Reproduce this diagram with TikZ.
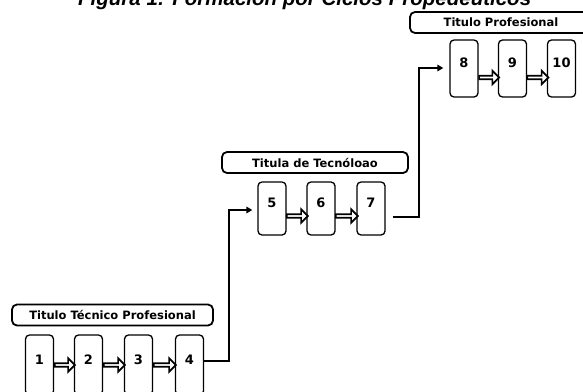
\documentclass[tikz,border=0pt]{standalone}
\usepackage{fontspec}
\setmainfont{DejaVu Sans}
\newfontfamily\titlefont{Liberation Sans}
\usetikzlibrary{calc,arrows.meta,shapes.arrows}
\tikzset{
  stepbox/.style={draw=black, line width=1.3pt, rounded corners=4pt, fill=white,
    minimum width=28pt, inner sep=0pt},
  headbox/.style={draw=black, line width=1.8pt, rounded corners=5pt, fill=white,
    minimum height=21pt, inner sep=0pt, font=\bfseries\fontsize{11.5}{12}\selectfont},
  numstyle/.style={font=\bfseries\fontsize{13}{14}\selectfont, inner sep=0pt, anchor=center},
  barrow/.style={single arrow, draw=black, line width=1.7pt, fill=white,
    minimum width=13.5pt, single arrow head extend=2.5pt, single arrow head indent=0pt,
    inner sep=0pt, shape border rotate=0},
  conn/.style={draw=black, line width=1.9pt},
  connarrow/.style={conn, -{Triangle[length=6pt,width=6.5pt]}},
}
\begin{document}
\begin{tikzpicture}[x=1pt,y=-1pt]
\useasboundingbox (0,0) rectangle (583,391);
% title (cut off at the top)
\node[anchor=base west, inner sep=0pt, font=\titlefont\bfseries\itshape\fontsize{20.5}{22}\selectfont] (title) at (78,5) {Figura 1: Formación por Ciclos Propedéuticos};

% group 1
\node[headbox, minimum width=201pt] (h1) at (112.5,315) {Titulo Técnico Profesional};
\node[stepbox, minimum height=60pt, label={[numstyle, yshift=-25pt]north:1}] (b1) at (39.5,365) {};
\node[stepbox, minimum height=60pt, label={[numstyle, yshift=-25pt]north:2}] (b2) at (88.5,365) {};
\node[stepbox, minimum height=60pt, label={[numstyle, yshift=-25pt]north:3}] (b3) at (138.5,365) {};
\node[stepbox, minimum height=60pt, label={[numstyle, yshift=-25pt]north:4}] (b4) at (189.5,365) {};
\node[barrow, minimum height=20pt] (a12) at ($(b1.east)!0.5!(b2.west)$) {};
\node[barrow, minimum height=21pt] (a23) at ($(b2.east)!0.5!(b3.west)$) {};
\node[barrow, minimum height=22pt] (a34) at ($(b3.east)!0.5!(b4.west)$) {};

% group 2
\node[headbox, minimum width=186pt] (h2) at (315,162.5) {Titula de Tecnóloao};
\node[stepbox, minimum height=53pt, label={[numstyle, yshift=-21pt]north:5}] (b5) at (272,208.5) {};
\node[stepbox, minimum height=53pt, label={[numstyle, yshift=-21pt]north:6}] (b6) at (321,208.5) {};
\node[stepbox, minimum height=53pt, label={[numstyle, yshift=-21pt]north:7}] (b7) at (371,208.5) {};
\node[barrow, minimum height=21pt, yshift=-7.5pt] (a56) at ($(b5.east)!0.5!(b6.west)$) {};
\node[barrow, minimum height=22pt, yshift=-7.5pt] (a67) at ($(b6.east)!0.5!(b7.west)$) {};

% group 3
\node[headbox, minimum width=182pt] (h3) at (501,22.5) {Titulo Profesional};
\node[stepbox, minimum height=57pt, label={[numstyle, yshift=-23pt]north:8}] (b8) at (464,68.5) {};
\node[stepbox, minimum height=57pt, label={[numstyle, yshift=-23pt]north:9}] (b9) at (512.5,68.5) {};
\node[stepbox, minimum height=57pt, label={[numstyle, yshift=-23pt]north:10}] (b10) at (561.5,68.5) {};
\node[barrow, minimum height=20pt, yshift=-9pt] (a89) at ($(b8.east)!0.5!(b9.west)$) {};
\node[barrow, minimum height=21pt, yshift=-9pt] (a910) at ($(b9.east)!0.5!(b10.west)$) {};

% connectors between groups
\coordinate (k1) at (229,361);
\coordinate (k2) at (229,210);
\draw[connarrow] ([yshift=4pt]b4.east) -- (k1) -- (k2) -- ([xshift=-5pt]b5.west |- k2);
\coordinate (k3) at (419,217);
\coordinate (k4) at (419,68);
\draw[connarrow] ([xshift=7pt,yshift=-8.5pt]b7.east) -- (k3) -- (k4) -- ([xshift=-6pt]b8.west |- k4);
\end{tikzpicture}
\end{document}
